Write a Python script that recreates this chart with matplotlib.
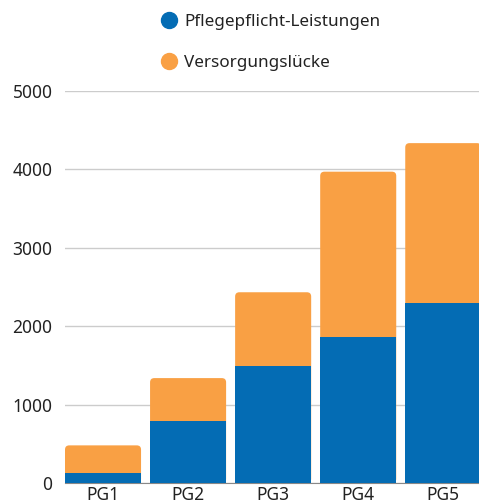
import matplotlib.pyplot as plt
from matplotlib.patches import FancyBboxPatch
from matplotlib.lines import Line2D

plt.rcParams['font.family'] = ['Noto Sans', 'DejaVu Sans']

categories = ['PG1', 'PG2', 'PG3', 'PG4', 'PG5']
leistungen = [131, 796, 1497, 1859, 2299]
luecke = [349, 542, 936, 2112, 2036]
yticks = [0, 1000, 2000, 3000, 4000, 5000]

blue = '#046cb4'
orange = '#f9a044'

fig = plt.figure(figsize=(4.79, 5.04), dpi=100)
ax = fig.add_axes([65 / 479, 21 / 504, 1 - 65 / 479, (483 - 91) / 504])

x = range(len(categories))
totals = [a + b for a, b in zip(leistungen, luecke)]
width = 0.894

# orange drawn as full bar (rounded top), blue drawn over it
top_bars = ax.bar(x, totals, width=width, color=orange, zorder=2)
ax.bar(x, leistungen, width=width, color=blue, zorder=3)

ax.set_xlim(-0.447, 4.42)
ax.set_ylim(0, 5000)

# round off the top corners of the orange bars
px_x = ax.bbox.width / (4.42 + 0.447)
px_y = ax.bbox.height / 5000
for p in top_bars.patches:
    r = FancyBboxPatch((p.get_x(), p.get_y()), p.get_width(), p.get_height(),
                       boxstyle='round,pad=0,rounding_size=0.05',
                       mutation_aspect=px_x / px_y,
                       facecolor=orange, edgecolor='none', zorder=2)
    p.remove()
    ax.add_patch(r)

ax.set_yticks(yticks)
ax.set_yticklabels([str(t) for t in yticks])
ax.set_xticks(list(x))
ax.set_xticklabels(categories)
ax.tick_params(axis='both', length=0, labelsize=12.5, colors='#222222')
ax.tick_params(axis='y', pad=9)
ax.tick_params(axis='x', pad=2)
ax.grid(axis='y', color='#cccccc', linewidth=1, zorder=0)
ax.set_axisbelow(True)
for s in ['top', 'right', 'left']:
    ax.spines[s].set_visible(False)
ax.spines['bottom'].set_color('#888888')

handles = [Line2D([], [], marker='o', linestyle='none', markersize=11.5, color=blue),
           Line2D([], [], marker='o', linestyle='none', markersize=11.5, color=orange)]
fig.legend(handles, ['Pflegepflicht-Leistungen', 'Versorgungslücke'],
           loc='upper left', bbox_to_anchor=(145 / 479, 1 + 1 / 504),
           frameon=False, fontsize=12.3, labelspacing=1.45,
           handletextpad=0.4, handlelength=1.0, labelcolor='#222222')

fig.savefig('out.png', dpi=100)
